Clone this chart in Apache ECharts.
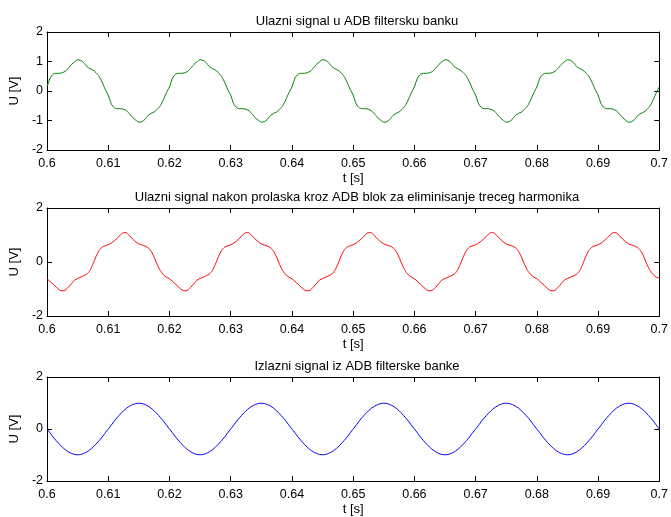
<!DOCTYPE html>
<html>
<head>
<meta charset="utf-8">
<script src="https://cdn.jsdelivr.net/npm/echarts@6/dist/echarts.min.js"></script>
<style>html,body{margin:0;padding:0;background:#fff;}#c{width:671px;height:517px;}</style>
</head>
<body>
<div id="c"></div>
<script>
// Time sampling: 0.6 s to 0.7 s, step 0.5 ms (201 samples)
const tStart = 0.6, tStep = 0.0005, nSamples = 201;
const xTickLabels = ['0.6','0.61','0.62','0.63','0.64','0.65','0.66','0.67','0.68','0.69','0.7'];

const titles = [
  'Ulazni signal u ADB filtersku banku',
  'Ulazni signal nakon prolaska kroz ADB blok za eliminisanje treceg harmonika',
  'Izlazni signal iz ADB filterske banke'
];

// Input signal (green)
const inputSignal = [
 0.14,0.44,0.57,0.60,0.60,0.62,0.67,0.78,0.90,0.99,1.06,1.04,0.96,0.83,0.76,0.71,0.62,0.50,0.30,0.06,-0.14,-0.44,-0.57,-0.60,-0.60,-0.62,-0.67,-0.78,-0.90,-0.99,-1.06,-1.04,-0.96,-0.83,-0.76,-0.71,-0.62,-0.50,-0.30,-0.06,
 0.14,0.44,0.57,0.60,0.60,0.62,0.67,0.78,0.90,0.99,1.06,1.04,0.96,0.83,0.76,0.71,0.62,0.50,0.30,0.06,-0.14,-0.44,-0.57,-0.60,-0.60,-0.62,-0.67,-0.78,-0.90,-0.99,-1.06,-1.04,-0.96,-0.83,-0.76,-0.71,-0.62,-0.50,-0.30,-0.06,
 0.14,0.44,0.57,0.60,0.60,0.62,0.67,0.78,0.90,0.99,1.06,1.04,0.96,0.83,0.76,0.71,0.62,0.50,0.30,0.06,-0.14,-0.44,-0.57,-0.60,-0.60,-0.62,-0.67,-0.78,-0.90,-0.99,-1.06,-1.04,-0.96,-0.83,-0.76,-0.71,-0.62,-0.50,-0.30,-0.06,
 0.14,0.44,0.57,0.60,0.60,0.62,0.67,0.78,0.90,0.99,1.06,1.04,0.96,0.83,0.76,0.71,0.62,0.50,0.30,0.06,-0.14,-0.44,-0.57,-0.60,-0.60,-0.62,-0.67,-0.78,-0.90,-0.99,-1.06,-1.04,-0.96,-0.83,-0.76,-0.71,-0.62,-0.50,-0.30,-0.06,
 0.14,0.44,0.57,0.60,0.60,0.62,0.67,0.78,0.90,0.99,1.06,1.04,0.96,0.83,0.76,0.71,0.62,0.50,0.30,0.06,-0.14,-0.44,-0.57,-0.60,-0.60,-0.62,-0.67,-0.78,-0.90,-0.99,-1.06,-1.04,-0.96,-0.83,-0.76,-0.71,-0.62,-0.50,-0.30,-0.06,
 0.14
];

// After third-harmonic elimination block (red)
const filteredSignal = [
 -0.62,-0.72,-0.82,-0.93,-1.03,-1.07,-1.04,-0.93,-0.80,-0.67,-0.61,-0.56,-0.51,-0.45,-0.32,-0.08,0.20,0.43,0.55,0.60,0.64,0.70,0.79,0.89,1.01,1.09,1.08,0.97,0.85,0.75,0.67,0.63,0.59,0.53,0.40,0.18,-0.10,-0.32,-0.47,-0.56,
 -0.62,-0.72,-0.82,-0.93,-1.03,-1.07,-1.04,-0.93,-0.80,-0.67,-0.61,-0.56,-0.51,-0.45,-0.32,-0.08,0.20,0.43,0.55,0.60,0.64,0.70,0.79,0.89,1.01,1.09,1.08,0.97,0.85,0.75,0.67,0.63,0.59,0.53,0.40,0.18,-0.10,-0.32,-0.47,-0.56,
 -0.62,-0.72,-0.82,-0.93,-1.03,-1.07,-1.04,-0.93,-0.80,-0.67,-0.61,-0.56,-0.51,-0.45,-0.32,-0.08,0.20,0.43,0.55,0.60,0.64,0.70,0.79,0.89,1.01,1.09,1.08,0.97,0.85,0.75,0.67,0.63,0.59,0.53,0.40,0.18,-0.10,-0.32,-0.47,-0.56,
 -0.62,-0.72,-0.82,-0.93,-1.03,-1.07,-1.04,-0.93,-0.80,-0.67,-0.61,-0.56,-0.51,-0.45,-0.32,-0.08,0.20,0.43,0.55,0.60,0.64,0.70,0.79,0.89,1.01,1.09,1.08,0.97,0.85,0.75,0.67,0.63,0.59,0.53,0.40,0.18,-0.10,-0.32,-0.47,-0.56,
 -0.62,-0.72,-0.82,-0.93,-1.03,-1.07,-1.04,-0.93,-0.80,-0.67,-0.61,-0.56,-0.51,-0.45,-0.32,-0.08,0.20,0.43,0.55,0.60,0.64,0.70,0.79,0.89,1.01,1.09,1.08,0.97,0.85,0.75,0.67,0.63,0.59,0.53,0.40,0.18,-0.10,-0.32,-0.47,-0.56,
 -0.60
];

// Output signal of the filter bank (blue)
const outputSignal = [
 0,-0.15,-0.31,-0.45,-0.58,-0.70,-0.80,-0.88,-0.94,-0.98,-0.99,-0.98,-0.94,-0.88,-0.80,-0.70,-0.58,-0.45,-0.31,-0.15,0,0.15,0.31,0.45,0.58,0.70,0.80,0.88,0.94,0.98,0.99,0.98,0.94,0.88,0.80,0.70,0.58,0.45,0.31,0.15,
 0,-0.15,-0.31,-0.45,-0.58,-0.70,-0.80,-0.88,-0.94,-0.98,-0.99,-0.98,-0.94,-0.88,-0.80,-0.70,-0.58,-0.45,-0.31,-0.15,0,0.15,0.31,0.45,0.58,0.70,0.80,0.88,0.94,0.98,0.99,0.98,0.94,0.88,0.80,0.70,0.58,0.45,0.31,0.15,
 0,-0.15,-0.31,-0.45,-0.58,-0.70,-0.80,-0.88,-0.94,-0.98,-0.99,-0.98,-0.94,-0.88,-0.80,-0.70,-0.58,-0.45,-0.31,-0.15,0,0.15,0.31,0.45,0.58,0.70,0.80,0.88,0.94,0.98,0.99,0.98,0.94,0.88,0.80,0.70,0.58,0.45,0.31,0.15,
 0,-0.15,-0.31,-0.45,-0.58,-0.70,-0.80,-0.88,-0.94,-0.98,-0.99,-0.98,-0.94,-0.88,-0.80,-0.70,-0.58,-0.45,-0.31,-0.15,0,0.15,0.31,0.45,0.58,0.70,0.80,0.88,0.94,0.98,0.99,0.98,0.94,0.88,0.80,0.70,0.58,0.45,0.31,0.15,
 0,-0.15,-0.31,-0.45,-0.58,-0.70,-0.80,-0.88,-0.94,-0.98,-0.99,-0.98,-0.94,-0.88,-0.80,-0.70,-0.58,-0.45,-0.31,-0.15,0,0.15,0.31,0.45,0.58,0.70,0.80,0.88,0.94,0.98,0.99,0.98,0.94,0.88,0.80,0.70,0.58,0.45,0.31,0.15,
 0
];

const seriesValues = [inputSignal, filteredSignal, outputSignal];
const seriesColors = ['#008000', '#ff0000', '#0000ff'];
const yIntervals = [1, 2, 2];

const FONT = '"Liberation Sans", Arial, Helvetica, sans-serif';
const grids = [
  {left: 44, right: 10, top: 32, height: 118},
  {left: 44, right: 10, top: 208, height: 108},
  {left: 44, right: 10, top: 377, height: 108}
];
const titleTops = [10, 186, 355];

function pairs(vals) {
  const out = [];
  for (let i = 0; i < vals.length && i < nSamples; i++) {
    out.push([+(tStart + i * tStep).toFixed(4), vals[i]]);
  }
  return out;
}

const line = {show: true, onZero: false, lineStyle: {color: '#000', width: 1}};
const tick = {show: true, inside: true, length: 5, lineStyle: {color: '#000', width: 1}};

const xAxis = [], yAxis = [], series = [], title = [];
for (let g = 0; g < 3; g++) {
  xAxis.push({
    type: 'value', gridIndex: g, min: 0.6, max: 0.7, interval: 0.01, position: 'bottom',
    axisLine: line, axisTick: tick, splitLine: {show: false},
    axisLabel: {color: '#000', fontSize: 12.5, fontFamily: FONT, margin: 7,
      formatter: v => xTickLabels[Math.round((v - 0.6) * 100)]},
    name: 't [s]', nameLocation: 'middle', nameGap: 22,
    nameTextStyle: {color: '#000', fontSize: 13, fontFamily: FONT}
  });
  xAxis.push({
    type: 'value', gridIndex: g, min: 0.6, max: 0.7, interval: 0.01, position: 'top',
    axisLine: line, axisTick: tick, splitLine: {show: false}, axisLabel: {show: false}
  });
  yAxis.push({
    type: 'value', gridIndex: g, min: -2, max: 2, interval: yIntervals[g], position: 'left',
    axisLine: line, axisTick: tick, splitLine: {show: false},
    axisLabel: {color: '#000', fontSize: 12.5, fontFamily: FONT, margin: 4},
    name: 'U [V]', nameLocation: 'middle', nameGap: 23, nameRotate: 90,
    nameTextStyle: {color: '#000', fontSize: 13, fontFamily: FONT}
  });
  yAxis.push({
    type: 'value', gridIndex: g, min: -2, max: 2, interval: yIntervals[g], position: 'right',
    axisLine: line, axisTick: tick, splitLine: {show: false}, axisLabel: {show: false}
  });
  series.push({
    type: 'line', xAxisIndex: g * 2, yAxisIndex: g * 2, data: pairs(seriesValues[g]),
    showSymbol: false, smooth: 0.2, lineStyle: {color: seriesColors[g], width: 1},
    itemStyle: {color: seriesColors[g]}, animation: false, silent: true
  });
  title.push({
    text: titles[g], left: 352, top: titleTops[g], textAlign: 'center',
    textStyle: {color: '#000', fontSize: 13, fontWeight: 'normal', fontFamily: FONT}
  });
}

const chart = echarts.init(document.getElementById('c'), null, {renderer: 'canvas'});
chart.setOption({
  backgroundColor: '#fff', animation: false,
  title, grid: grids, xAxis, yAxis, series
});
</script>
</body>
</html>
